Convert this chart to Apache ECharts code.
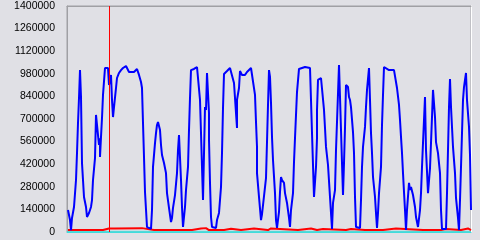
<!DOCTYPE html>
<html><head><meta charset="utf-8">
<script src="https://cdn.jsdelivr.net/npm/echarts@6/dist/echarts.min.js"></script>
<style>html,body{margin:0;padding:0;background:#e0e0e5;}#c{width:480px;height:240px;}</style>
</head><body><div id="c"></div>
<script>
// sample time index, value
const blueSamples = [[1,136000],[3,74000],[4,12000],[5,87000],[7,155000],[9,322000],[10,489000],[11,675000],[12,830000],[13,1003000],[14,1003000],[14,836000],[15,427000],[17,217000],[19,155000],[20,93000],[22,118000],[24,155000],[25,198000],[26,322000],[28,458000],[29,725000],[30,725000],[31,600000],[32,539000],[33,580000],[33,465000],[34,589000],[35,706000],[36,849000],[38,1016000],[41,1016000],[42,911000],[44,973000],[45,818000],[46,712000],[47,774000],[49,892000],[50,954000],[52,985000],[54,1003000],[56,1016000],[59,1028000],[60,1016000],[62,991000],[67,991000],[70,1010000],[72,973000],[74,929000],[75,892000],[76,675000],[77,465000],[78,248000],[80,31000],[81,19000],[84,19000],[85,136000],[86,403000],[88,551000],[89,613000],[90,663000],[91,681000],[93,632000],[94,539000],[95,477000],[97,427000],[99,365000],[100,241000],[102,149000],[104,62000],[105,87000],[106,149000],[108,229000],[110,365000],[111,508000],[112,601000],[113,601000],[114,322000],[115,155000],[116,31000],[118,155000],[119,260000],[121,403000],[122,632000],[123,830000],[124,1003000],[127,1010000],[130,1022000],[132,1022000],[133,818000],[134,613000],[135,403000],[136,198000],[138,774000],[139,756000],[140,985000],[141,985000],[142,737000],[142,570000],[143,304000],[144,93000],[145,31000],[149,25000],[150,74000],[152,118000],[154,279000],[155,489000],[156,768000],[157,979000],[160,997000],[163,1016000],[165,1022000],[167,923000],[168,830000],[169,737000],[170,644000],[170,818000],[172,892000],[173,997000],[175,973000],[178,973000],[180,991000],[184,1016000],[186,1016000],[188,849000],[189,681000],[190,527000],[190,365000],[192,217000],[194,74000],[195,110000],[197,118000],[199,334000],[200,557000],[201,787000],[202,1003000],[203,961000],[204,800000],[205,589000],[206,446000],[208,241000],[209,74000],[210,25000],[212,124000],[213,248000],[214,341000],[215,322000],[217,304000],[218,241000],[220,180000],[222,87000],[223,31000],[224,136000],[226,241000],[227,434000],[228,582000],[229,725000],[230,867000],[232,1010000],[234,1016000],[238,1022000],[243,1016000],[244,818000],[245,613000],[246,415000],[247,217000],[249,403000],[250,582000],[250,756000],[251,942000],[254,954000],[255,966000],[257,756000],[258,644000],[259,527000],[261,415000],[263,217000],[264,118000],[265,19000],[266,180000],[268,260000],[269,508000],[270,681000],[272,1034000],[273,1028000],[273,836000],[274,632000],[275,427000],[276,229000],[277,427000],[278,644000],[279,911000],[281,898000],[282,836000],[283,818000],[284,774000],[286,619000],[287,489000],[288,217000],[289,31000],[293,25000],[294,198000],[295,403000],[296,527000],[298,651000],[299,774000],[300,880000],[302,1016000],[303,818000],[304,613000],[305,489000],[306,341000],[308,217000],[309,118000],[310,25000],[311,118000],[312,241000],[314,403000],[315,663000],[316,849000],[317,1022000],[319,1016000],[322,1003000],[327,1003000],[329,991000],[330,892000],[332,787000],[333,694000],[334,589000],[335,489000],[336,365000],[337,248000],[338,136000],[339,12000],[340,136000],[342,304000],[343,260000],[344,279000],[346,229000],[348,155000],[349,93000],[351,31000],[353,136000],[354,241000],[355,403000],[356,551000],[357,694000],[358,836000],[359,508000],[361,241000],[363,396000],[364,551000],[365,712000],[366,880000],[367,870000],[368,712000],[369,557000],[371,489000],[373,365000],[374,136000],[375,19000],[379,19000],[380,241000],[381,508000],[382,774000],[383,948000],[384,774000],[386,527000],[388,365000],[389,211000],[391,87000],[392,12000],[393,198000],[394,403000],[395,613000],[396,818000],[397,898000],[398,942000],[399,985000],[400,818000],[402,651000],[403,477000],[404,136000]];
const redSamples = [[1,12000],[12,12000],[13,18000],[14,12000],[28,12000],[29,18000],[30,12000],[36,12000],[38,20000],[42,22000],[48,22000],[50,24000],[75,24000],[76,12000],[87,12000],[89,18000],[92,12000],[125,12000],[126,22000],[134,22000],[139,24000],[142,12000],[157,12000],[158,20000],[164,20000],[165,12000],[174,12000],[175,22000],[187,22000],[188,12000],[201,12000],[202,22000],[204,22000],[205,12000],[231,12000],[232,22000],[244,22000],[245,12000],[250,12000],[251,18000],[256,18000],[257,12000],[279,12000],[280,18000],[284,18000],[285,12000],[298,12000],[299,18000],[303,12000],[316,12000],[317,22000],[329,22000],[330,12000],[356,12000],[357,18000],[358,12000],[374,12000],[375,18000],[379,18000],[380,12000],[394,12000],[395,22000],[401,22000],[402,12000],[404,12000]];
const cyanSamples = [[0,4000],[404,4000]];
const markerTime = 42;
const yMin = 0, yMax = 1400000, yStep = 140000;

const chart = echarts.init(document.getElementById('c'), null, {renderer:'canvas'});
chart.setOption({
  animation:false,
  backgroundColor:'#e0e0e5',
  grid:{left:67,right:9,top:6,bottom:8,show:true,borderColor:'#a0a0a4',borderWidth:1,backgroundColor:'transparent'},
  xAxis:[
    {type:'value',min:0,max:404,position:'bottom',axisLine:{show:true,onZero:false,lineStyle:{color:'#40dcdc',width:1}},axisTick:{show:false},axisLabel:{show:false},splitLine:{show:false}},
    {type:'value',min:0,max:404,position:'top',axisLine:{show:true,onZero:false,lineStyle:{color:'#a0a0a4',width:1}},axisTick:{show:false},axisLabel:{show:false},splitLine:{show:false}}
  ],
  yAxis:[
    {type:'value',min:yMin,max:yMax,interval:yStep,position:'left',
     axisLine:{show:true,onZero:false,lineStyle:{color:'#a0a0a4',width:1}},axisTick:{show:false},splitLine:{show:false},
     axisLabel:{margin:12,color:'#000',fontFamily:'Liberation Sans',fontSize:10.5,formatter:v=>String(v)}},
    {type:'value',min:yMin,max:yMax,interval:yStep,position:'right',
     axisLine:{show:true,onZero:false,lineStyle:{color:'#ffffff',width:1}},axisTick:{show:false},splitLine:{show:false},axisLabel:{show:false}}
  ],
  series:[
    {type:'line',data:cyanSamples,symbol:'none',lineStyle:{color:'#40dcdc',width:1}},
    {type:'line',data:redSamples,symbol:'none',lineStyle:{color:'#ff0000',width:2}},
    {type:'line',data:blueSamples,symbol:'none',lineStyle:{color:'#0000ff',width:2},
     markLine:{symbol:'none',label:{show:false},lineStyle:{color:'#ff0000',width:1,type:'solid'},data:[{xAxis:markerTime}]}}
  ]
});
</script></body></html>
